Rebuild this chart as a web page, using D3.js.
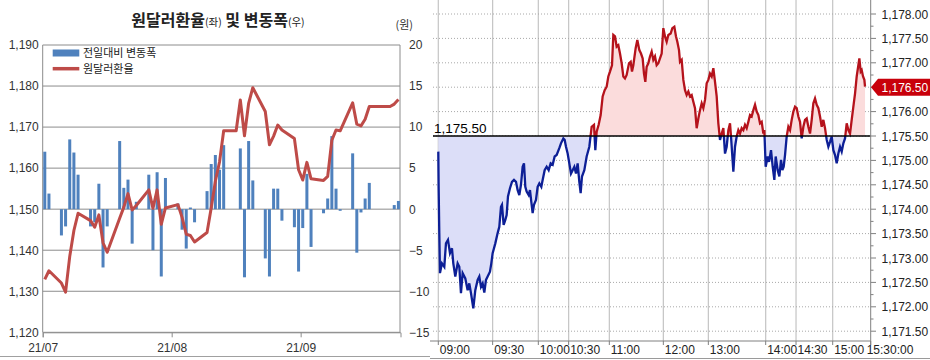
<!DOCTYPE html>
<html>
<head>
<meta charset="utf-8">
<script src="https://cdn.jsdelivr.net/npm/d3@7"></script>
<style>
  body { margin: 0; background: #fff; }
  svg { display: block; }
</style>
</head>
<body>
<svg id="chart" width="930" height="360"></svg>
<script>

    // ---- Left chart: daily USD/KRW close (left axis) and day-on-day change (right axis) ----

    const dayDates = [
        '2021-07-01','2021-07-02','2021-07-05','2021-07-06','2021-07-07','2021-07-08','2021-07-09',
        '2021-07-12','2021-07-13','2021-07-14','2021-07-15','2021-07-16','2021-07-19','2021-07-20',
        '2021-07-21','2021-07-22','2021-07-23','2021-07-26','2021-07-27','2021-07-28','2021-07-29',
        '2021-07-30',
        '2021-08-02','2021-08-03','2021-08-04','2021-08-05','2021-08-06','2021-08-09','2021-08-10',
        '2021-08-11','2021-08-12','2021-08-13','2021-08-16','2021-08-17','2021-08-18','2021-08-19',
        '2021-08-20','2021-08-23','2021-08-24','2021-08-25','2021-08-26','2021-08-27','2021-08-30',
        '2021-08-31',
        '2021-09-01','2021-09-02','2021-09-03','2021-09-06','2021-09-07','2021-09-08','2021-09-09',
        '2021-09-10','2021-09-13','2021-09-14','2021-09-15','2021-09-16','2021-09-17','2021-09-20',
        '2021-09-21','2021-09-22','2021-09-23','2021-09-24'
    ]

    const closeRate = [ // 원달러환율 (좌)
        1132.9, 1135.0, 1132.0, 1129.8, 1138.5, 1144.8, 1149.0, 1147.2, 1145.6, 1148.6, 1141.8,
        1139.5, 1147.8, 1150.5, 1153.8, 1149.8, 1150.9, 1154.7, 1150.2, 1154.7, 1146.3, 1150.3,
        1151.1, 1148.0, 1143.9, 1143.6, 1142.0, 1144.3, 1150.3, 1156.8, 1161.5, 1169.1, 1169.1,
        1176.6, 1167.9, 1175.8, 1179.6, 1173.8, 1165.7, 1167.8, 1170.5, 1169.3, 1167.2, 1159.6,
        1157.1, 1161.4, 1157.4, 1157.0, 1158.0, 1166.8, 1169.3, 1169.1, 1175.9, 1170.7, 1170.3,
        1171.9, 1175.0, 1175.0, 1175.0, 1175.0, 1175.6, 1176.7
    ]

    const dayChange = [ // 전일대비 변동폭 (우)
        7.0, 1.9, -3.2, -2.1, 8.5, 6.9, 4.2, -2.1, -1.6, 3.1, -7.1,
        -2.1, 8.3, 2.6, 3.6, -4.2, 0.9, 4.2, -5.0, 4.5, -8.2, 3.8,
        0.7, -2.5, -4.8, 0.2, -1.6, 2.2, 5.5, 6.6, 4.8, 7.8, 0,
        7.4, -8.3, 8.3, 3.5, -6.0, -8.2, 2.5, 2.5, -1.4, -2.2, -7.6,
        -2.3, 4.3, -4.6, -0.5, 1.3, 8.9, 2.5, -0.2, 6.8, -5.3, -0.4,
        1.3, 3.2, 0, 0, 0, 0.5, 1.0
    ]

    const leftTicks = [1120, 1130, 1140, 1150, 1160, 1170, 1180, 1190]
    const rightTicks = [-15, -10, -5, 0, 5, 10, 15, 20]
    const monthTicks = ['2021-07-01', '2021-08-01', '2021-09-01']

    // ---- Right chart: intraday ticks, [trade sequence no., price] ----

    const intraday = [
        [0,1175.18],[1,1174.46],[3,1173.51],[5,1172.69],[11,1172.89],[18,1172.82],[23,1173.30],
        [29,1173.37],[35,1173.10],[41,1173.20],[45,1172.89],[51,1172.62],[58,1172.89],[63,1172.82],
        [68,1172.28],[73,1172.69],[81,1172.58],[88,1172.34],[93,1172.48],[98,1172.28],[105,1171.97],
        [111,1172.34],[118,1172.55],[123,1172.62],[128,1172.41],[133,1172.48],[138,1172.29],
        [143,1172.55],[148,1172.62],[155,1172.72],[159,1172.89],[163,1173.10],[171,1173.30],
        [178,1173.51],[183,1173.64],[188,1174.05],[191,1174.09],[196,1173.68],[201,1173.78],
        [205,1173.88],[209,1174.26],[215,1174.43],[221,1174.56],[227,1174.60],[233,1174.56],
        [238,1174.39],[243,1174.29],[248,1174.50],[253,1174.87],[257,1174.94],[261,1174.46],
        [265,1174.36],[271,1174.29],[275,1174.39],[279,1174.15],[283,1173.92],[287,1174.09],
        [293,1174.19],[298,1174.46],[303,1174.53],[309,1174.46],[313,1174.60],[319,1174.80],
        [325,1174.87],[331,1174.80],[337,1174.94],[343,1174.91],[349,1175.08],[355,1175.11],
        [363,1175.25],[368,1175.35],[375,1175.45],[379,1175.42],[383,1175.28],[388,1175.14],
        [393,1174.94],[398,1174.73],[403,1174.80],[408,1174.87],[413,1174.73],[418,1174.94],
        [423,1174.56],[427,1174.33],[431,1174.67],[438,1174.80],
        [445,1175.08],[453,1175.28],[460,1175.69],[467,1175.73],[471,1175.21],[475,1175.59],
        [481,1175.73],[487,1175.93],[493,1176.31],[499,1176.44],[505,1176.51],[510,1176.72],
        [515,1176.82],[521,1176.95],[525,1177.57],[530,1177.54],[535,1177.33],[540,1177.36],
        [545,1177.19],[550,1176.99],[555,1176.72],[560,1176.68],[565,1176.75],[572,1176.99],
        [577,1177.02],[581,1176.82],[585,1176.95],[592,1177.30],[597,1177.47],[603,1177.26],
        [608,1177.19],[613,1177.09],[617,1176.78],[621,1176.61],[625,1176.92],[630,1176.99],
        [635,1177.13],[640,1177.23],[645,1177.06],[650,1177.13],[655,1176.95],[660,1176.99],
        [665,1177.09],[670,1177.19],[675,1177.71],[680,1177.54],[685,1177.43],[690,1177.57],
        [697,1177.60],[702,1177.71],[708,1177.74],[713,1177.54],[717,1177.43],[722,1177.26],
        [725,1177.02],[730,1177.06],[735,1176.65],[740,1176.44],[745,1176.34],[750,1176.41],
        [755,1176.31],[760,1176.34],[765,1176.20],[770,1176.07],[775,1175.66],[780,1175.86],
        [785,1176.03],[790,1176.17],[795,1176.07],[800,1176.24],[805,1176.58],[810,1176.65],
        [815,1176.78],[820,1176.72],[825,1176.89],[830,1176.61],[835,1176.31],[840,1175.76],
        [845,1175.42],[850,1175.55],[855,1175.66],[860,1175.14],
        [865,1175.28],[870,1175.62],[875,1175.76],[878,1175.49],[882,1175.08],[885,1174.77],
        [890,1175.28],[895,1175.49],[900,1175.62],[905,1175.55],[910,1175.66],[915,1175.62],
        [920,1175.73],[925,1175.66],[930,1175.79],[935,1175.93],[940,1175.90],[945,1176.03],
        [950,1176.14],[955,1176.00],[960,1175.93],[965,1175.76],[970,1175.79],[975,1175.55],
        [978,1175.62],[982,1174.87],[988,1175.08],[992,1174.97],[998,1175.21],[1003,1174.87],
        [1008,1174.60],[1012,1175.08],[1018,1174.80],[1023,1174.67],[1028,1175.01],[1032,1174.80],
        [1036,1174.87],[1040,1175.11],[1045,1175.49],[1050,1175.69],[1055,1175.62],[1060,1175.83],
        [1065,1176.00],[1070,1176.10],[1075,1176.07],[1080,1175.90],[1085,1175.79],[1090,1175.45],
        [1095,1175.69],[1100,1175.83],[1105,1175.86],[1110,1175.69],[1115,1175.55],[1120,1175.83],
        [1125,1176.17],[1130,1176.27],[1135,1176.14],[1140,1176.07],[1145,1175.90],[1150,1175.69],
        [1155,1175.83],[1160,1175.66],[1165,1175.42],[1170,1175.28],[1175,1175.38],[1180,1175.49],
        [1185,1175.21],[1190,1175.11],[1195,1174.94],[1200,1175.14],[1205,1175.28],[1210,1175.18],
        [1215,1175.35],[1220,1175.45],[1225,1175.76],[1230,1175.62],[1235,1175.55],[1240,1175.83],
        [1245,1176.10],[1250,1176.37],[1255,1176.72],[1260,1176.95],[1263,1177.09],[1267,1176.82],
        [1270,1176.85],[1274,1176.72],[1278,1176.65],[1280,1176.51]
    ]

    const timeLabels = ['09:00','09:30','10:00','10:30','11:00','12:00','13:00','14:00','14:30','15:00','15:30:00']
    const timeLabelSeq = [0, 163, 300, 391, 513, 675, 810, 982, 1073, 1183, 1297]
    const priceTicks = [1171.5, 1172, 1172.5, 1173, 1173.5, 1174, 1174.5, 1175, 1175.5, 1176, 1176.5, 1177, 1177.5, 1178]
    const prevClose = 1175.50
    const lastPrice = 1176.50


    const svg = d3.select('#chart')
    const parseDay = d3.timeParse('%Y-%m-%d')
    const numFont = 'Liberation Sans, Arial, sans-serif'
    const korFont = "'Noto Sans CJK KR', sans-serif"

    svg.append('rect').attr('width', 930).attr('height', 360).attr('fill', '#fff')


    // =================== Left chart ===================

    const L = svg.append('g')
    const lx = d3.scaleTime()
        .domain([parseDay('2021-07-01'), parseDay('2021-09-25')])
        .range([42.7, 400.5])
    const ly = d3.scaleLinear().domain([1120, 1190]).range([332.3, 45])
    const ry = d3.scaleLinear().domain([-15, 20]).range([332.3, 45])
    const mid = d => lx(d3.timeHour.offset(parseDay(d), 12)) // centre of the day

    // bottom edge of the panel
    L.append('line').attr('x1', 0).attr('x2', 430).attr('y1', 356.5).attr('y2', 356.5)
        .attr('stroke', '#a0a0a0')

    // gridlines
    L.append('g').selectAll('line').data(leftTicks).enter().append('line')
        .attr('x1', 42.7).attr('x2', 400)
        .attr('y1', d => ly(d)).attr('y2', d => ly(d))
        .attr('stroke', '#8c8c8c').attr('stroke-width', 1)

    L.append('line').attr('x1', 42.7).attr('x2', 42.7).attr('y1', 45).attr('y2', 332.3)
        .attr('stroke', '#8c8c8c')
    L.append('line').attr('x1', 400).attr('x2', 400).attr('y1', 45).attr('y2', 332.3)
        .attr('stroke', '#8c8c8c')

    // bars
    L.append('g').selectAll('rect').data(dayDates).enter().append('rect')
        .attr('x', d => mid(d) - 1.5)
        .attr('width', 3)
        .attr('y', (d, i) => ry(Math.max(0, dayChange[i])))
        .attr('height', (d, i) => Math.abs(ry(dayChange[i]) - ry(0)))
        .attr('fill', '#4f81bd')

    // line
    L.append('path')
        .datum(dayDates)
        .attr('d', d3.line().x(d => mid(d)).y((d, i) => ly(closeRate[i])))
        .attr('fill', 'none')
        .attr('stroke', '#be4b48')
        .attr('stroke-width', 3)
        .attr('stroke-linejoin', 'round')

    // axes
    const axL = L.append('g').attr('transform', 'translate(42.7,0)')
        .call(d3.axisLeft(ly).tickValues(leftTicks).tickSize(0).tickPadding(4).tickFormat(d3.format(',')))
    const axR = L.append('g').attr('transform', 'translate(400,0)')
        .call(d3.axisRight(ry).tickValues(rightTicks).tickSize(0).tickPadding(9))
    const axB = L.append('g').attr('transform', 'translate(0,332.3)')
        .call(d3.axisBottom(lx).tickValues(monthTicks.map(parseDay)).tickSize(5).tickPadding(6)
            .tickFormat(d3.timeFormat('%y/%m')))
    ;[axL, axR, axB].forEach(a => {
        a.select('.domain').attr('stroke', '#8c8c8c')
        a.selectAll('line').attr('stroke', '#8c8c8c')
        a.selectAll('text').attr('font-family', numFont).attr('font-size', 12).attr('fill', '#333')
    })
    axL.select('.domain').remove()
    axR.select('.domain').remove()

    // title
    const title = L.append('text').attr('x', 218).attr('y', 26).attr('text-anchor', 'middle')
        .attr('font-family', korFont).attr('font-weight', 700).attr('fill', '#222')
    title.append('tspan').attr('font-size', 16).text('원달러환율')
    title.append('tspan').attr('font-size', 10.5).attr('font-weight', 400).text('(좌)')
    title.append('tspan').attr('font-size', 16).text(' 및 변동폭')
    title.append('tspan').attr('font-size', 10.5).attr('font-weight', 400).text('(우)')

    L.append('text').attr('x', 413).attr('y', 29).attr('text-anchor', 'end')
        .attr('font-family', korFont).attr('font-size', 11).attr('fill', '#333').text('(원)')

    // legend
    L.append('rect').attr('x', 52.7).attr('y', 49.5).attr('width', 26.6).attr('height', 7)
        .attr('fill', '#4f81bd')
    L.append('text').attr('x', 83).attr('y', 57).attr('font-family', korFont)
        .attr('font-size', 11).attr('fill', '#222').text('전일대비 변동폭')
    L.append('line').attr('x1', 52.7).attr('x2', 79.3).attr('y1', 68.7).attr('y2', 68.7)
        .attr('stroke', '#be4b48').attr('stroke-width', 3.5)
    L.append('text').attr('x', 83).attr('y', 73).attr('font-family', korFont)
        .attr('font-size', 11).attr('fill', '#222').text('원달러환율')


    // =================== Right chart ===================

    const R = svg.append('g')
    const sx = d3.scaleLinear().domain([0, 1297]).range([438.3, 870.7])
    const sy = d3.scaleLinear().domain([1171.5, 1178]).range([331.2, 14])
    const baseY = sy(prevClose)

    // vertical time gridlines
    R.append('g').selectAll('line').data(timeLabelSeq.slice(0, -1)).enter().append('line')
        .attr('x1', d => sx(d)).attr('x2', d => sx(d)).attr('y1', 0).attr('y2', 341)
        .attr('stroke', '#c4c4c4').attr('stroke-width', 1.2)

    // dotted price gridlines
    R.append('g').selectAll('line').data(priceTicks).enter().append('line')
        .attr('x1', 433).attr('x2', 870.7).attr('y1', d => sy(d)).attr('y2', d => sy(d))
        .attr('stroke', '#a8a8a8').attr('stroke-dasharray', '1,2')

    const defs = svg.append('defs')
    defs.append('clipPath').attr('id', 'above')
        .append('rect').attr('x', 430).attr('y', 0).attr('width', 441).attr('height', baseY)
    defs.append('clipPath').attr('id', 'below')
        .append('rect').attr('x', 430).attr('y', baseY).attr('width', 441).attr('height', 341 - baseY)

    const area = d3.area().x(d => sx(d[0])).y0(baseY).y1(d => sy(d[1]))
    const line = d3.line().x(d => sx(d[0])).y(d => sy(d[1]))

    R.append('path').datum(intraday).attr('d', area).attr('fill', '#fbdcdc').attr('clip-path', 'url(#above)')
    R.append('path').datum(intraday).attr('d', area).attr('fill', '#dcdef8').attr('clip-path', 'url(#below)')
    R.append('path').datum(intraday).attr('d', line).attr('fill', 'none')
        .attr('stroke', '#b5121b').attr('stroke-width', 2.3).attr('clip-path', 'url(#above)')
    R.append('path').datum(intraday).attr('d', line).attr('fill', 'none')
        .attr('stroke', '#0d1f96').attr('stroke-width', 2.3).attr('clip-path', 'url(#below)')

    // previous close reference line
    R.append('line').attr('x1', 433).attr('x2', 870.7).attr('y1', baseY).attr('y2', baseY)
        .attr('stroke', '#000').attr('stroke-width', 1.3)
    R.append('text').attr('x', 434).attr('y', baseY - 3.5)
        .attr('font-family', numFont).attr('font-size', 13.5).attr('fill', '#000')
        .text(d3.format(',.2f')(prevClose))

    // x axis
    R.append('line').attr('x1', 430).attr('x2', 870.7).attr('y1', 341).attr('y2', 341)
        .attr('stroke', '#808080')
    R.append('g').selectAll('line').data(timeLabelSeq).enter().append('line')
        .attr('x1', d => sx(d)).attr('x2', d => sx(d)).attr('y1', 341).attr('y2', 345)
        .attr('stroke', '#808080')
    R.append('g').selectAll('text').data(timeLabels).enter().append('text')
        .attr('x', (d, i) => sx(timeLabelSeq[i]) + (i === timeLabels.length - 1 ? -4 : 1.5))
        .attr('y', 354)
        .attr('font-family', numFont).attr('font-size', 12).attr('fill', '#222')
        .text(d => d)
    R.append('line').attr('x1', 430).attr('x2', 930).attr('y1', 358.5).attr('y2', 358.5)
        .attr('stroke', '#9a9a9a')

    // y axis on the right
    R.append('line').attr('x1', 870.7).attr('x2', 870.7).attr('y1', 0).attr('y2', 345)
        .attr('stroke', '#808080')
    R.append('g').selectAll('line').data(priceTicks).enter().append('line')
        .attr('x1', 870.7).attr('x2', 876).attr('y1', d => sy(d)).attr('y2', d => sy(d))
        .attr('stroke', '#808080')
    R.append('g').selectAll('line').data(priceTicks.slice(0, -1)).enter().append('line')
        .attr('x1', 870.7).attr('x2', 873.5).attr('y1', d => sy(d + 0.25)).attr('y2', d => sy(d + 0.25))
        .attr('stroke', '#808080')
    R.append('g').selectAll('text').data(priceTicks).enter().append('text')
        .attr('x', 881.5).attr('y', d => sy(d) + 4.5)
        .attr('font-family', numFont).attr('font-size', 12).attr('fill', '#222')
        .text(d => d3.format(',.2f')(d))

    // last price tag
    const tagY = sy(lastPrice)
    R.append('path')
        .attr('d', `M871,${tagY} L878,${tagY - 8.5} L930,${tagY - 8.5} L930,${tagY + 8.5} L878,${tagY + 8.5} Z`)
        .attr('fill', '#c8000b')
    R.append('text').attr('x', 881.5).attr('y', tagY + 4.5)
        .attr('font-family', numFont).attr('font-size', 12).attr('fill', '#fff')
        .text(d3.format(',.2f')(lastPrice))

</script>
</body>
</html>
